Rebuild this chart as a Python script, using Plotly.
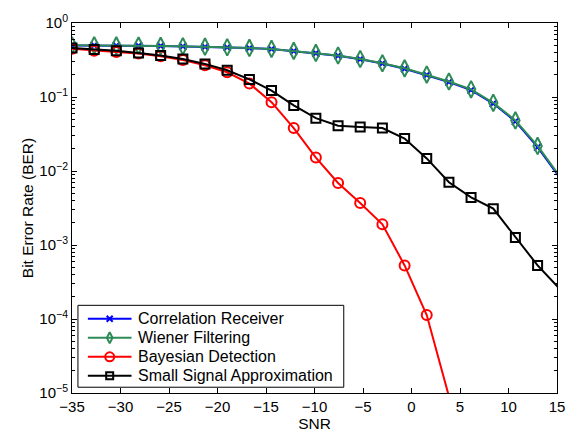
import numpy as np
import plotly.graph_objects as go

# SNR sweep (dB)
snr = [-35.0, -32.71, -30.43, -28.14, -25.86, -23.57, -21.29, -19.0, -16.71,
       -14.43, -12.14, -9.86, -7.57, -5.29, -3.0, -0.71, 1.57, 3.86, 6.14,
       8.43, 10.71, 13.0, 15.29]

# Bit error rates per detector
ber_corr = [0.498, 0.498, 0.495, 0.493, 0.488, 0.483, 0.476, 0.468, 0.458,
            0.444, 0.417, 0.391, 0.361, 0.323, 0.283, 0.241, 0.198, 0.159,
            0.124, 0.0815, 0.0468, 0.0210, 0.0081]
ber_wiener = [0.50, 0.50, 0.497, 0.495, 0.49, 0.485, 0.478, 0.47, 0.46,
              0.447, 0.42, 0.394, 0.364, 0.326, 0.286, 0.244, 0.201, 0.162,
              0.127, 0.0835, 0.0482, 0.0218, 0.00845]
ber_bayes = [0.449, 0.422, 0.406, 0.386, 0.356, 0.316, 0.269, 0.216, 0.152,
             0.085, 0.038, 0.0152, 0.0069, 0.0037, 0.0019, 5.3e-4, 1.13e-4,
             9e-6]
ber_small = [0.458, 0.44, 0.422, 0.394, 0.364, 0.326, 0.28, 0.23, 0.173,
             0.122, 0.077, 0.0517, 0.041, 0.0394, 0.038, 0.0275, 0.0148,
             0.00705, 0.0044, 0.0031, 0.00126, 5.3e-4, 2.54e-4]

# y decade ticks
decades = [-5, -4, -3, -2, -1, 0]
decade_labels = ["10<sup>\u2212%d</sup>" % -d if d < 0 else "10<sup>%d</sup>" % d
                 for d in decades]

x_range = [-35, 15]
y_range = [1e-5, 1.0]

series = [
    ("Correlation Receiver", ber_corr, "#0000ff", "x-thin", 7, 6),
    ("Wiener Filtering", ber_wiener, "#2e8b57", "diamond-tall-open", 12, 8),
    ("Bayesian Detection", ber_bayes, "#ff0000", "circle-open", 10, 9),
    ("Small Signal Approximation", ber_small, "#000000", "square-open", 9, 7),
]

W, H = 577, 440
L, R, T, B = 72, 16, 13, 43
font_family = "Liberation Sans, Arial, Helvetica, sans-serif"

fig = go.Figure()
for name, ber, color, symbol, size, _ in series:
    x = np.array(snr[:len(ber)])
    y = np.array(ber)
    # full curve (clipped by the axes)
    fig.add_trace(go.Scatter(x=x, y=y, mode="lines", showlegend=False,
                             line=dict(color=color, width=2), hoverinfo="skip"))
    # markers only where the point lies inside the axes
    inside = (x >= x_range[0]) & (x <= x_range[1]) & (y >= y_range[0]) & (y <= y_range[1])
    fig.add_trace(go.Scatter(x=x[inside], y=y[inside], mode="markers", showlegend=False,
                             marker=dict(symbol=symbol, size=size, color=color,
                                         line=dict(width=2, color=color))))

# Boxed key drawn on an overlay axis measured in screen pixels
box_l, box_t, box_r, box_b = 78, 306, 346, 391
row_y0, row_dy = 320, 19.7
sample_x0, sample_x1, text_x = 88, 132, 137

fig.add_trace(go.Scatter(
    x=[box_l, box_r, box_r, box_l, box_l], y=[box_t, box_t, box_b, box_b, box_t],
    xaxis="x2", yaxis="y2", mode="lines", fill="toself", fillcolor="white",
    line=dict(color="black", width=1), showlegend=False, hoverinfo="skip"))

for i, (name, _, color, symbol, _, key_size) in enumerate(series):
    ry = row_y0 + i * row_dy
    fig.add_trace(go.Scatter(
        x=[sample_x0, sample_x1], y=[ry, ry], xaxis="x2", yaxis="y2",
        mode="lines", line=dict(color=color, width=2),
        showlegend=False, hoverinfo="skip"))
    fig.add_trace(go.Scatter(
        x=[(sample_x0 + sample_x1) / 2], y=[ry], xaxis="x2", yaxis="y2",
        mode="markers", marker=dict(symbol=symbol, size=key_size, color=color,
                                    line=dict(width=2, color=color)),
        showlegend=False, hoverinfo="skip"))
    fig.add_annotation(x=text_x, y=ry, xref="x2", yref="y2", text=name,
                       showarrow=False, xanchor="left", yanchor="middle",
                       font=dict(size=16, family=font_family, color="black"))

fig.update_layout(
    width=W, height=H,
    margin=dict(l=L, r=R, t=T, b=B),
    paper_bgcolor="white", plot_bgcolor="white",
    font=dict(family=font_family, size=15, color="black"),
    showlegend=False,
    xaxis=dict(
        range=x_range, dtick=5, tick0=-35,
        ticks="inside", ticklen=5, tickcolor="black",
        showline=True, linecolor="black", linewidth=1, mirror="ticks",
        showgrid=False, zeroline=False,
        title=dict(text="SNR", standoff=2, font=dict(size=15.5)),
    ),
    yaxis=dict(
        type="log", range=[np.log10(y_range[0]), np.log10(y_range[1])],
        tickvals=[10.0 ** d for d in decades], ticktext=decade_labels,
        ticks="inside", ticklen=5, tickcolor="black",
        minor=dict(dtick="D1", ticks="inside", ticklen=3, tickcolor="black", showgrid=False),
        showline=True, linecolor="black", linewidth=1, mirror="ticks",
        showgrid=False, zeroline=False,
        title=dict(text="Bit Error Rate (BER)", standoff=1, font=dict(size=15.5)),
    ),
    xaxis2=dict(overlaying="x", range=[L, W - R], visible=False, fixedrange=True),
    yaxis2=dict(overlaying="y", range=[H - B, T], visible=False, fixedrange=True),
)

fig.write_html("out.html")
